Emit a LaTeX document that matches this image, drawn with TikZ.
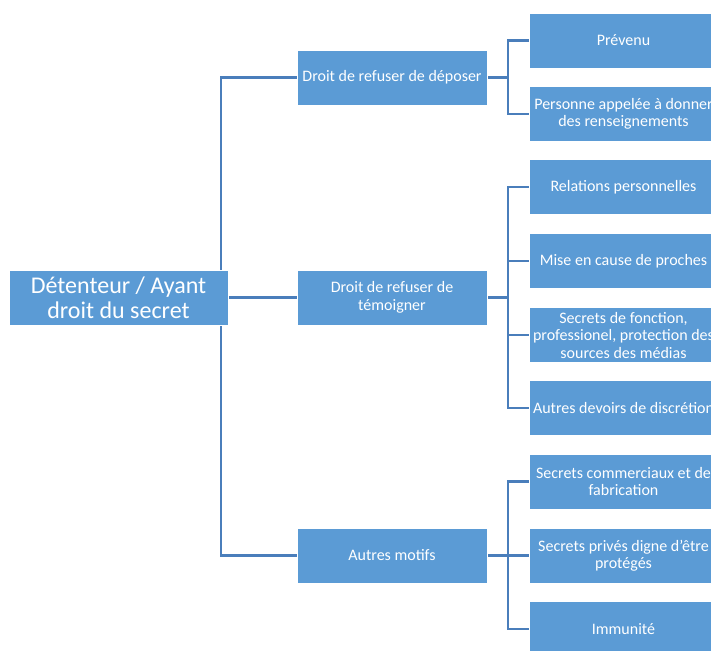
\documentclass[tikz,border=0pt]{standalone}
\usepackage{fontspec}
\setmainfont{Carlito}
\definecolor{boxfill}{HTML}{5B9BD5}
\definecolor{linecol}{HTML}{4A7EBB}
\pgfdeclarelayer{background}
\pgfsetlayers{background,main}
\tikzset{
  box/.style={draw=white, line width=0.8pt, fill=boxfill, text=white, align=center, inner sep=1pt},
  rootbox/.style={box, minimum width=219pt, minimum height=55pt, font=\fontsize{24}{25}\selectfont},
  lvlone/.style={box, minimum width=190pt, minimum height=55pt, font=\fontsize{16}{17.5}\selectfont},
  lvltwo/.style={box, minimum width=189pt, minimum height=55pt, font=\fontsize{16}{17.5}\selectfont},
  conn/.style={draw=linecol, line width=2.5pt},
}
\begin{document}
\begin{tikzpicture}[x=1pt,y=-1pt]
\useasboundingbox (0,0) rectangle (711,650);
\clip (0,0) rectangle (711,650);
\node[rootbox] (root) at (118.5,297.5) {Détenteur / Ayant\\droit du secret};
\node[lvlone] (b1) at (392,77.5) {Droit de refuser de déposer};
\node[lvlone] (b2) at (392,297.5) {Droit de refuser de\\témoigner};
\node[lvlone] (b3) at (392,555.5) {Autres motifs};
\node[lvltwo] (c1) at (623.5,40.5) {Prévenu};
\node[lvltwo] (c2) at (623.5,114) {Personne appelée à donner\\des renseignements};
\node[lvltwo] (c3) at (623.5,187) {Relations personnelles};
\node[lvltwo] (c4) at (623.5,261) {Mise en cause de proches};
\node[lvltwo] (c5) at (623.5,335) {Secrets de fonction,\\professionel, protection des\\sources des médias};
\node[lvltwo] (c6) at (623.5,408) {Autres devoirs de discrétion};
\node[lvltwo] (c7) at (623.5,481.5) {Secrets commerciaux et de\\fabrication};
\node[lvltwo] (c8) at (623.5,555.5) {Secrets privés digne d'être\\protégés};
\node[lvltwo] (c9) at (623.5,629) {Immunité};
\begin{pgfonlayer}{background}
\coordinate (t) at (221,297.5);
\draw[conn] (t) |- (b1.west);
\draw[conn] (t) |- (b3.west);
\draw[conn] (root.east) -- (b2.west);
\coordinate (s1) at (508,77.5);
\coordinate (s2) at (508,297.5);
\coordinate (s3) at (508,555.5);
\draw[conn] (b1.east) -- (s1);
\draw[conn] (s1) |- (c1.west);
\draw[conn] (s1) |- (c2.west);
\draw[conn] (b2.east) -- (s2);
\draw[conn] (s2) |- (c3.west);
\draw[conn] (s2) |- (c4.west);
\draw[conn] (s2) |- (c5.west);
\draw[conn] (s2) |- (c6.west);
\draw[conn] (b3.east) -- (s3);
\draw[conn] (s3) |- (c7.west);
\draw[conn] (s3) |- (c8.west);
\draw[conn] (s3) |- (c9.west);
\end{pgfonlayer}
\end{tikzpicture}
\end{document}
